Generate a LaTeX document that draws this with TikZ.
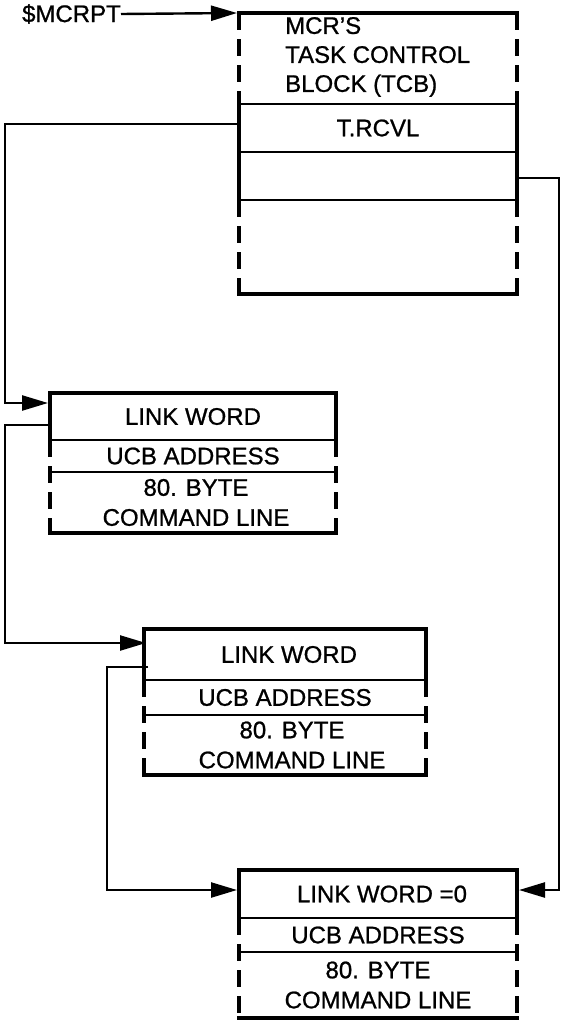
\documentclass[tikz,border=0pt]{standalone}
\usepackage{fontspec}
\setmainfont{Liberation Sans}[FakeBold=0.9]
\usetikzlibrary{arrows.meta}
\begin{document}
\begin{tikzpicture}[x=1pt,y=-1pt,
  lbl/.style={font=\fontsize{24}{30}\selectfont, inner sep=0pt, align=center},
  sect/.style={draw=none, inner sep=0pt, outer sep=0pt, minimum width=#1},
  heavy/.style={line width=3.6pt, line cap=rect},
  tcbdiv/.style={line width=2.6pt},
  divider/.style={line width=1.8pt},
  dashside/.style={line width=3.6pt, dash pattern=on 17pt off 9pt},
  link/.style={line width=2.4pt, -{Triangle[length=26pt,width=15pt]}}]
\useasboundingbox (0,0) rectangle (564,1020);

% ---------- TCB ----------
\node[sect=278pt, minimum height=91pt] (tcbh) at (378,58.5) {};
\node[sect=278pt, minimum height=48pt, lbl] (tcbr) at (378,128) {T.RCVL};
\node[sect=278pt, minimum height=48pt] (tcbe) at (378,176) {};
\node[sect=278pt, minimum height=94pt] (tcbf) at (378,247) {};
\node[lbl, anchor=west, align=left, font=\fontsize{24}{29}\selectfont] (tcbtext) at (285,57) {MCR'S\\TASK CONTROL\\BLOCK (TCB)};

\draw[heavy] (tcbh.north west) -- (tcbh.north east);
\draw[dashside] (tcbh.north west) -- (tcbh.south west);
\draw[dashside] (tcbh.north east) -- (tcbh.south east);
\draw[heavy] (tcbr.north west) -- (tcbe.south west);
\draw[heavy] (tcbr.north east) -- (tcbe.south east);
\draw[tcbdiv] (tcbh.south west) -- (tcbh.south east);
\draw[tcbdiv] (tcbr.south west) -- (tcbr.south east);
\draw[tcbdiv] (tcbe.south west) -- (tcbe.south east);
\draw[dashside] (tcbf.north west) -- (tcbf.south west);
\draw[dashside] (tcbf.north east) -- (tcbf.south east);
\draw[heavy] (tcbf.south west) -- (tcbf.south east);

\node[lbl, anchor=east] (mcrpt) at (121,14) {\$MCRPT};

% ---------- Box 1 ----------
\node[sect=286pt, minimum height=47pt, lbl] (b1a) at (193,416.5) {LINK WORD};
\node[sect=286pt, minimum height=32pt, lbl] (b1b) at (193,456) {UCB ADDRESS};
\node[sect=286pt, minimum height=61pt, lbl] (b1c) at (196,502.5) {80. BYTE\\COMMAND LINE};

% ---------- Box 2 ----------
\node[sect=282pt, minimum height=51pt, lbl] (b2a) at (289,654.5) {LINK WORD};
\node[sect=282pt, minimum height=35pt, lbl] (b2b) at (285,697.5) {UCB ADDRESS};
\node[sect=282pt, minimum height=60pt, lbl] (b2c) at (292,745) {80. BYTE\\COMMAND LINE};

% ---------- Box 3 ----------
\node[sect=278pt, minimum height=48pt, lbl] (b3a) at (382,894) {LINK WORD =0};
\node[sect=278pt, minimum height=34pt, lbl] (b3b) at (378,935) {UCB ADDRESS};
\node[sect=278pt, minimum height=66pt, lbl] (b3c) at (378,985) {80. BYTE\\COMMAND LINE};

% box outlines (b?a, b?b, b?c)
\foreach \b in {b1,b2,b3}{
  \draw[heavy] (\b a.north west -| \b b.west) -- (\b a.north east -| \b b.east);
  \draw[heavy] (\b a.north west -| \b b.west) -- (\b a.south west -| \b b.west);
  \draw[heavy] (\b a.north east -| \b b.east) -- (\b a.south east -| \b b.east);
  \draw[divider] (\b a.south west -| \b b.west) -- (\b a.south east -| \b b.east);
  \draw[divider] (\b b.south west) -- (\b b.south east);
  \draw[dashside] (\b b.north west) -- (\b c.south west -| \b b.west);
  \draw[dashside] (\b b.north east) -- (\b c.south east -| \b b.east);
  \draw[heavy] (\b c.south west -| \b b.west) -- (\b c.south east -| \b b.east);
}

% ---------- connector points and rails ----------
\coordinate (tcbptr) at (239,124);
\coordinate (tcbout) at (517,178);
\coordinate (b1in) at (48,403);
\coordinate (b1out) at (50,425);
\coordinate (b2in) at (146,643);
\coordinate (b2out) at (148,667);
\coordinate (b3inL) at (237,890);
\coordinate (b3inR) at (519,890);
\coordinate (railL) at (5,0);
\coordinate (railM) at (107,0);
\coordinate (railR) at (559,0);

\draw[link] (mcrpt.east) -- ([xshift=-2pt]tcbh.north west);
\draw[link] (tcbptr) -- (tcbptr -| railL) |- (b1in);
\draw[link] (b1out) -- (b1out -| railL) |- (b2in);
\draw[link] (b2out) -- (b2out -| railM) |- (b3inL);
\draw[link] (tcbout) -- (tcbout -| railR) |- (b3inR);
\end{tikzpicture}
\end{document}
